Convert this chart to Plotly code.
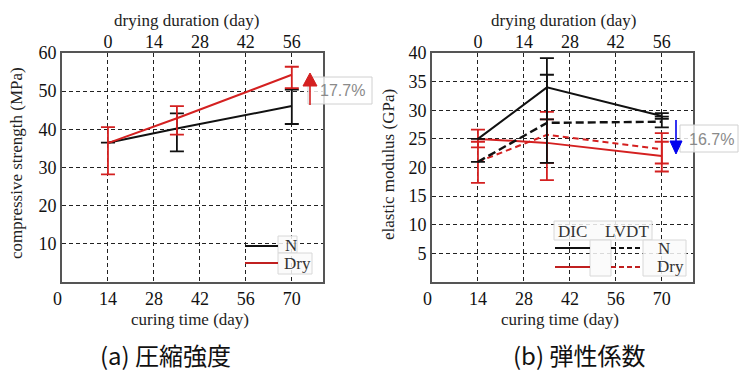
import plotly.graph_objects as go

W, H = 747, 371

# ---------------- data ----------------
curing_days = [14, 35, 70]

# (a) compressive strength (MPa)
cs_N = [36.5, 40.2, 46.1]
cs_N_plus = [0, 4.0, 4.3]
cs_N_minus = [0, 6.0, 4.7]
cs_Dry = [36.4, 42.9, 54.3]
cs_Dry_plus = [4.2, 3.2, 2.1]
cs_Dry_minus = [8.2, 4.3, 3.5]

# (b) elastic modulus (GPa)
em_DIC_N = [25.0, 34.0, 29.0]
em_DIC_N_plus = [0, 5.1, 0.5]
em_DIC_N_minus = [0, 5.6, 0.5]
em_LVDT_N = [21.0, 27.8, 28.0]
em_LVDT_N_plus = [0, 8.4, 0.9]
em_LVDT_N_minus = [0, 7.0, 1.0]
em_DIC_Dry = [25.0, 24.3, 22.0]
em_DIC_Dry_plus = [1.6, 5.4, 2.5]
em_DIC_Dry_minus = [1.5, 6.5, 2.7]
em_LVDT_Dry = [21.0, 25.7, 23.2]
em_LVDT_Dry_plus = [3.5, 2.7, 2.8]
em_LVDT_Dry_minus = [3.7, 4.9, 2.5]

curing_ticks = [0, 14, 28, 42, 56, 70]
curing_ticktext = ["0\u00a0\u00a0", "14", "28", "42", "56", "70"]
drying_ticks = [0, 14, 28, 42, 56]
cs_ticks = [10, 20, 30, 40, 50, 60]
em_ticks = [5, 10, 15, 20, 25, 30, 35, 40]

cs_change = "17.7%"
em_change = "16.7%"

BLACK = "#111111"
RED = "#d42020"
BLUE = "#0000ee"
SERIF = "Liberation Serif, Tinos, Times New Roman, serif"


def px(x):
    return x / W


def py(y):
    return 1 - y / H


dom_L = [px(62), px(323)]
dom_R = [px(432), px(693)]
dom_Y = [py(282), py(53)]

fig = go.Figure()


def add(xa, ya, yv, plus, minus, color, dash, width=2):
    fig.add_trace(go.Scatter(
        x=curing_days, y=yv, xaxis=xa, yaxis=ya, mode="lines",
        line=dict(color=color, width=width, dash=dash),
        error_y=dict(type="data", array=plus, arrayminus=minus, color=color,
                     thickness=1.8, width=7, visible=True),
        showlegend=False, hoverinfo="skip"))


# left panel: black under red
add("x", "y", cs_N, cs_N_plus, cs_N_minus, BLACK, "solid")
add("x", "y", cs_Dry, cs_Dry_plus, cs_Dry_minus, RED, "solid")
# right panel: red under black
add("x2", "y2", em_LVDT_Dry, em_LVDT_Dry_plus, em_LVDT_Dry_minus, RED, "6px,4px")
add("x2", "y2", em_DIC_Dry, em_DIC_Dry_plus, em_DIC_Dry_minus, RED, "solid")
add("x2", "y2", em_LVDT_N, em_LVDT_N_plus, em_LVDT_N_minus, BLACK, "8px,4px", 2.4)
add("x2", "y2", em_DIC_N, em_DIC_N_plus, em_DIC_N_minus, BLACK, "solid")

# dummy traces to activate top axes
fig.add_trace(go.Scatter(x=[0], y=[None], xaxis="x3", yaxis="y", showlegend=False, hoverinfo="skip"))
fig.add_trace(go.Scatter(x=[0], y=[None], xaxis="x4", yaxis="y2", showlegend=False, hoverinfo="skip"))

tickfont = dict(family=SERIF, size=18, color="#111")
common_x = dict(range=[0, 79.5], tickvals=curing_ticks, ticktext=curing_ticktext,
                showgrid=True, gridcolor="#222", gridwidth=1, griddash="4px,3px",
                showline=True, linecolor="#555", linewidth=1.6, mirror=True,
                zeroline=False, ticks="", tickfont=tickfont, fixedrange=True,
                automargin=False)
common_top = dict(range=[-14, 65.5], tickvals=drying_ticks, side="top",
                  showgrid=False, showline=False, zeroline=False, ticks="",
                  tickfont=tickfont, automargin=False)
common_y = dict(showgrid=True, gridcolor="#222", gridwidth=1, griddash="4px,3px",
                showline=True, linecolor="#555", linewidth=1.6, mirror=True,
                zeroline=False, ticks="", tickfont=tickfont, domain=dom_Y,
                automargin=False)

fig.update_layout(
    width=W, height=H, autosize=False,
    margin=dict(l=0, r=0, t=0, b=0, pad=0, autoexpand=False),
    paper_bgcolor="white", plot_bgcolor="white",
    xaxis=dict(domain=dom_L, anchor="y", **common_x),
    xaxis2=dict(domain=dom_R, anchor="y2", **common_x),
    xaxis3=dict(overlaying="x", anchor="y", **common_top),
    xaxis4=dict(overlaying="x2", anchor="y2", **common_top),
    yaxis=dict(anchor="x", range=[0, 60], tickvals=cs_ticks, **common_y),
    yaxis2=dict(anchor="x2", range=[0, 40], tickvals=em_ticks, **common_y),
)

shapes = []
ann = []


def rect(x0, y0, x1, y1, fill="rgba(250,250,250,0.85)", line="#d8d8d8"):
    shapes.append(dict(type="rect", xref="paper", yref="paper", x0=px(x0), x1=px(x1),
                       y0=py(y1), y1=py(y0), fillcolor=fill, line=dict(color=line, width=1),
                       layer="above"))


def hline(x0, x1, y, color, dash="solid", width=2):
    shapes.append(dict(type="line", xref="paper", yref="paper", x0=px(x0), x1=px(x1),
                       y0=py(y), y1=py(y), line=dict(color=color, width=width, dash=dash),
                       layer="above"))


def vline(x, y0, y1, color, width=1.5):
    shapes.append(dict(type="line", xref="paper", yref="paper", x0=px(x), x1=px(x),
                       y0=py(y0), y1=py(y1), line=dict(color=color, width=width),
                       layer="above"))


def tri(pts, color):
    path = "M " + " L ".join(f"{px(a):.5f},{py(b):.5f}" for a, b in pts) + " Z"
    shapes.append(dict(type="path", xref="paper", yref="paper", path=path,
                       fillcolor=color, line=dict(color=color, width=1), layer="above"))


def text(x, y, s, size=17, family=SERIF, color="#222", xanchor="center", angle=0):
    ann.append(dict(x=px(x), y=py(y), xref="paper", yref="paper", text=s, showarrow=False,
                    xanchor=xanchor, yanchor="middle", textangle=angle,
                    font=dict(family=family, size=size, color=color)))


# percentage boxes and arrows
rect(308, 77, 372, 104, fill="rgba(255,255,255,0.82)", line="#d0d0d0")
text(342, 91, cs_change, size=16, family="Liberation Sans, Arial, sans-serif", color="#8a8a8a")
vline(310, 105, 84, RED, 1.6)
tri([(303, 86), (317, 86), (310, 73)], RED)

rect(680, 125, 738, 152, fill="rgba(255,255,255,0.82)", line="#d0d0d0")
text(711, 139, em_change, size=16, family="Liberation Sans, Arial, sans-serif", color="#8a8a8a")
vline(676, 120, 142, BLUE, 1.6)
tri([(670, 141), (682, 141), (676, 154)], BLUE)

# legend (a)
rect(278, 236, 297, 253)
rect(278, 253, 312, 274)
hline(245, 278, 246, BLACK, width=2.2)
hline(245, 278, 263, "#c02020", width=2)
text(283, 245, "N", xanchor="left", color="#333")
text(282, 263, "Dry", xanchor="left", color="#333")

# legend (b)
rect(554, 221, 652, 240)
rect(590, 240, 611, 276)
rect(643, 240, 686, 276)
text(572, 231, "DIC", color="#333")
text(627, 231, "LVDT", color="#333")
hline(555, 590, 248, BLACK, width=2.2)
hline(555, 590, 267, "#c02020", width=2)
hline(611, 643, 248, BLACK, dash="5px,3px", width=2)
hline(611, 643, 267, "#c02020", dash="5px,3px", width=2)
text(656, 248, "N", xanchor="left", color="#333")
text(655, 266, "Dry", xanchor="left", color="#333")

# axis titles
text(186, 20, "drying duration (day)")
text(563, 21, "drying duration (day)")
text(190, 319, "curing time (day)")
text(560, 319, "curing time (day)")
text(16, 163, "compressive strength (MPa)", angle=-90)
text(388, 165, "elastic modulus (GPa)", angle=-90)

# captions
text(165, 354, "(a) 圧縮強度", size=24, family="Noto Sans CJK JP", color="#111")
text(579, 354, "(b) 弾性係数", size=24, family="Noto Sans CJK JP", color="#111")

fig.update_layout(shapes=shapes, annotations=ann)

post = ("document.documentElement.style.margin='0';document.documentElement.style.padding='0';"
        "document.body.style.margin='0';document.body.style.padding='0';"
        "document.body.style.overflow='hidden';"
        "var d=document.getElementById('{plot_id}');"
        "d.style.position='fixed';d.style.left='0px';d.style.top='0px';")
fig.write_html("out.html", post_script=post, config={"displayModeBar": False})
